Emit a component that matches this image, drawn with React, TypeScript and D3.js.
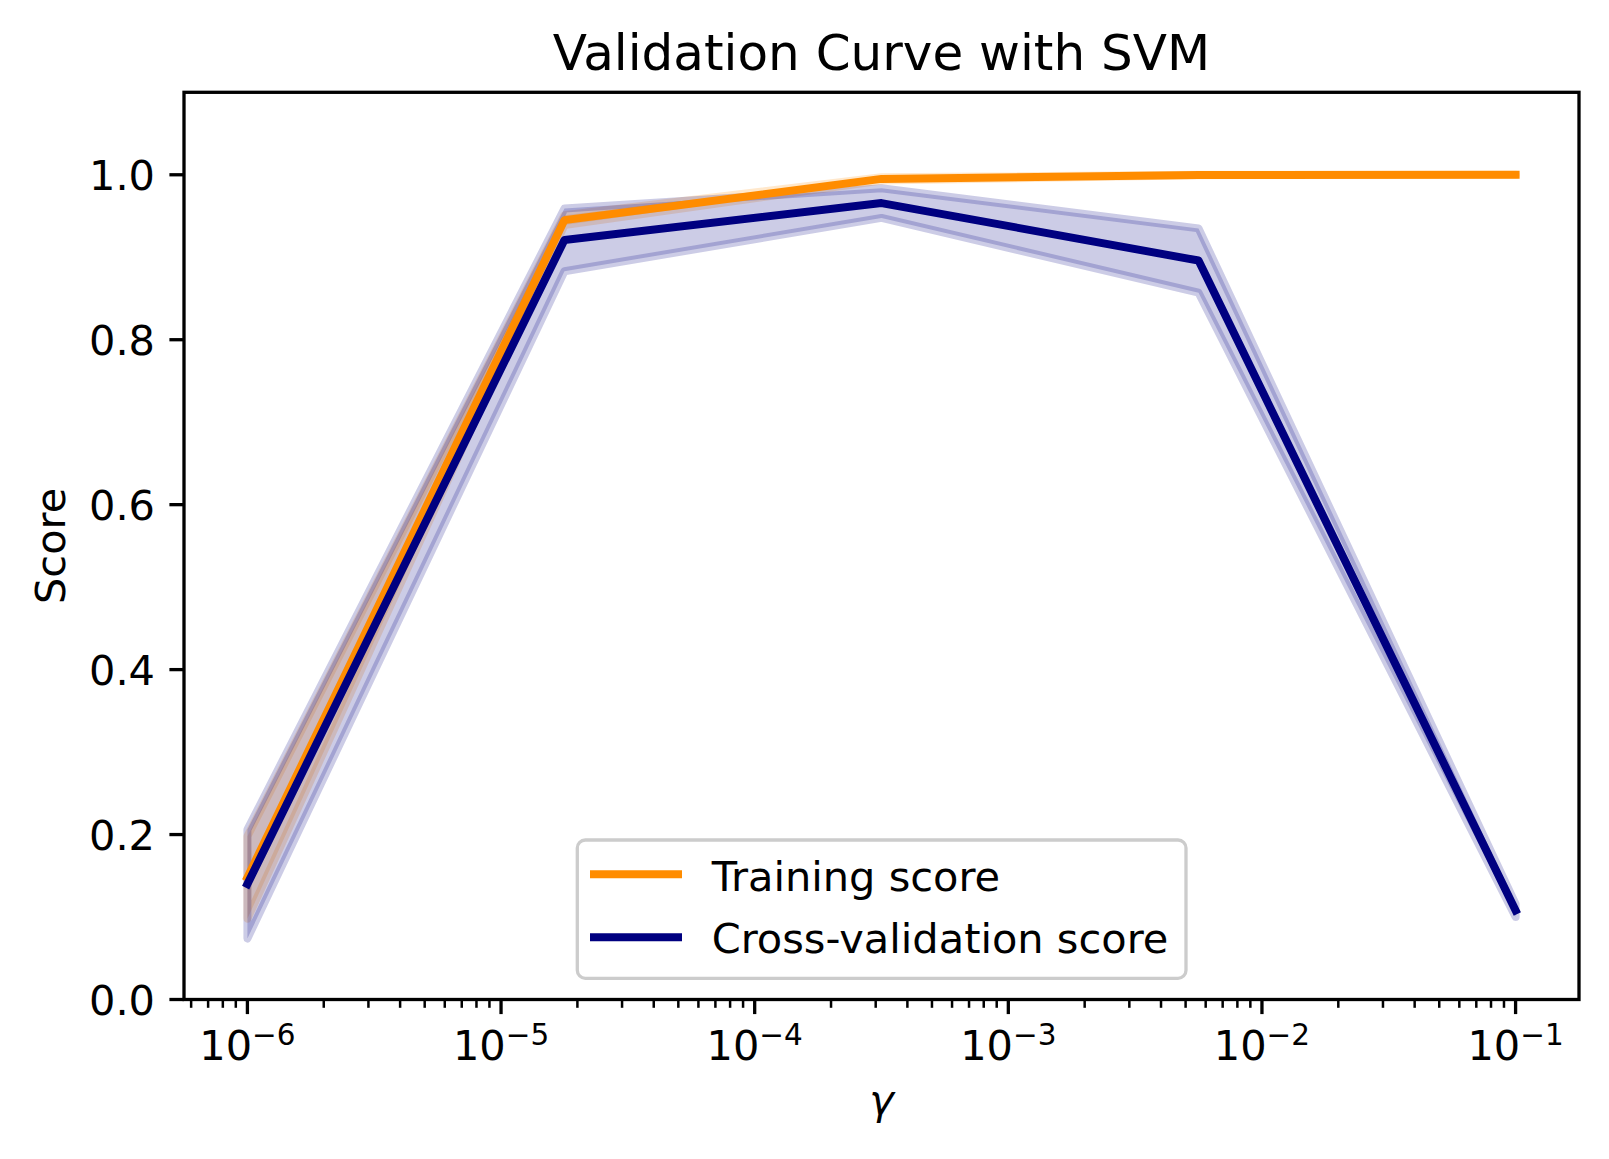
import React from "react";
import * as d3 from "d3";

const paramRange = [1e-6, 1.7783e-5, 3.1623e-4, 5.6234e-3, 1e-1];
const trainMean = [0.148, 0.945, 0.995, 0.9998, 1.0];
const trainStd = [0.05, 0.006, 0.002, 0.0003, 0.0];
const cvMean = [0.14, 0.921, 0.9657, 0.896, 0.108];
const cvStd = [0.066, 0.038, 0.018, 0.039, 0.008];
const yTicks = [0, 0.2, 0.4, 0.6, 0.8, 1.0];
const xMajorExps = [-6, -5, -4, -3, -2, -1];
const seriesLabels = ["Training score", "Cross-validation score"];
const seriesColors = ["#ff8c00", "#000080"];

const W = 1609;
const H = 1159;
const L = 184, R = 1579, T = 92.3, B = 999.5;
const FONT = "DejaVu Sans, sans-serif";
const FS = 41.5;

export default function App() {
  const x = d3.scaleLog().domain([Math.pow(10, -6.25), Math.pow(10, -0.75)]).range([L, R]);
  const y = d3.scaleLinear().domain([0, 1.1]).range([B, T]);

  const line = d3.line<number>().x((_, i) => x(paramRange[i])).y((d) => y(d));
  const area = (mean: number[], std: number[]) =>
    d3
      .area<number>()
      .x((_, i) => x(paramRange[i]))
      .y0((d, i) => y(d - std[i]))
      .y1((d, i) => y(d + std[i]))(mean) + "";
  // closed polygon outline for band (like matplotlib fill_between edge)
  const bandPath = (mean: number[], std: number[]) => {
    const up = mean.map((d, i) => [x(paramRange[i]), y(d + std[i])]);
    const lo = mean.map((d, i) => [x(paramRange[i]), y(d - std[i])]).reverse();
    const pts = up.concat(lo);
    return "M" + pts.map((p) => p[0] + "," + p[1]).join("L") + "Z";
  };

  const minor: number[] = [];
  const [d0, d1] = x.domain();
  for (let k = -7; k <= 0; k++) {
    for (let m = 2; m <= 9; m++) {
      const v = m * Math.pow(10, k);
      if (v >= d0 && v <= d1) minor.push(v);
    }
  }
  const fmt = d3.format(".1f");

  return (
    <svg
      width={W}
      height={H}
      viewBox={`0 0 ${W} ${H}`}
      style={{ position: "absolute", left: 0, top: 0, background: "#fff" }}
      fontFamily={FONT}
    >
      <rect x={0} y={0} width={W} height={H} fill="#fff" />
      <defs>
        <clipPath id="ax">
          <rect x={L} y={T} width={R - L} height={B - T} />
        </clipPath>
      </defs>
      <g clipPath="url(#ax)">
        <path
          d={bandPath(trainMean, trainStd)}
          fill={seriesColors[0]}
          fillOpacity={0.2}
          stroke={seriesColors[0]}
          strokeOpacity={0.2}
          strokeWidth={8}
          strokeLinejoin="round"
        />
        <path
          d={bandPath(cvMean, cvStd)}
          fill={seriesColors[1]}
          fillOpacity={0.2}
          stroke={seriesColors[1]}
          strokeOpacity={0.2}
          strokeWidth={8}
          strokeLinejoin="round"
        />
        <path
          d={line(trainMean) || ""}
          fill="none"
          stroke={seriesColors[0]}
          strokeWidth={8}
          strokeLinejoin="round"
          strokeLinecap="square"
        />
        <path
          d={line(cvMean) || ""}
          fill="none"
          stroke={seriesColors[1]}
          strokeWidth={8}
          strokeLinejoin="round"
          strokeLinecap="square"
        />
      </g>

      {/* spines */}
      <rect x={L} y={T} width={R - L} height={B - T} fill="none" stroke="#000" strokeWidth={3.3} />

      {/* x minor ticks */}
      {minor.map((v, i) => (
        <line key={"mn" + i} x1={x(v)} x2={x(v)} y1={B} y2={B + 8.3} stroke="#000" strokeWidth={2.5} />
      ))}
      {/* x major ticks */}
      {xMajorExps.map((e) => {
        const px = x(Math.pow(10, e));
        return (
          <g key={"mj" + e}>
            <line x1={px} x2={px} y1={B} y2={B + 14.6} stroke="#000" strokeWidth={3.3} />
            <text x={px} y={1060} textAnchor="middle" fontSize={FS} fill="#000">
              <tspan>10</tspan>
              <tspan dy={-15} fontSize={29.5}>{"\u2212" + Math.abs(e)}</tspan>
            </text>
          </g>
        );
      })}
      {/* y ticks */}
      {yTicks.map((v) => (
        <g key={"y" + v}>
          <line x1={L - 14.6} x2={L} y1={y(v)} y2={y(v)} stroke="#000" strokeWidth={3.3} />
          <text x={155} y={y(v) + 15} textAnchor="end" fontSize={FS} fill="#000">
            {fmt(v)}
          </text>
        </g>
      ))}

      {/* labels */}
      <text x={(L + R) / 2} y={70} textAnchor="middle" fontSize={50} fill="#000">
        Validation Curve with SVM
      </text>
      <text x={(L + R) / 2} y={1114} textAnchor="middle" fontSize={FS} fontStyle="italic" fill="#000">
        γ
      </text>
      <text transform={`translate(65,${(T + B) / 2}) rotate(-90)`} textAnchor="middle" fontSize={FS} fill="#000">
        Score
      </text>

      {/* legend */}
      <rect
        x={577.3}
        y={840}
        width={1186 - 577.3}
        height={978.3 - 840}
        rx={8}
        ry={8}
        fill="#fff"
        fillOpacity={0.8}
        stroke="#cccccc"
        strokeWidth={3.3}
      />
      {seriesLabels.map((lab, i) => {
        const ly = 874.3 + i * 63;
        return (
          <g key={lab}>
            <line x1={594} x2={678} y1={ly} y2={ly} stroke={seriesColors[i]} strokeWidth={8} strokeLinecap="square" />
            <text x={711.7} y={890.7 + i * 62.6} fontSize={FS} fill="#000">
              {lab}
            </text>
          </g>
        );
      })}
    </svg>
  );
}
